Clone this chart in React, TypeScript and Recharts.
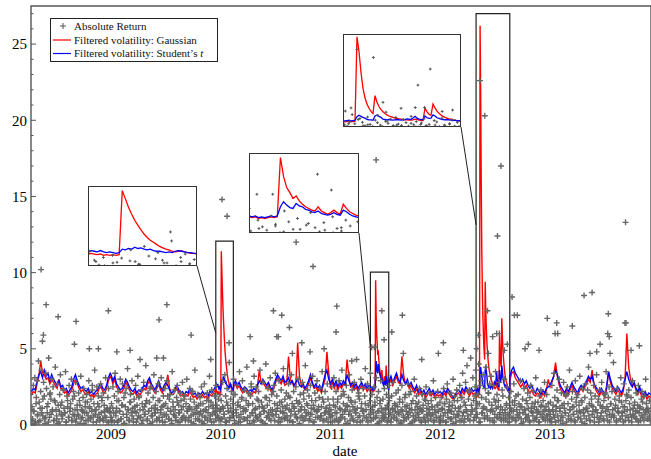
import React from "react";
import {
  ComposedChart,
  Scatter,
  Line,
  XAxis,
  YAxis,
  ReferenceArea,
  ReferenceLine,
} from "recharts";

const FONT = "'Liberation Serif', 'Times New Roman', 'DejaVu Serif', serif";

// plot frame (data units)
const X0 = 2008.27;
const X1 = 2013.92;
const Y_MAX = 27.5;
const YEAR_TICKS = [2009, 2010, 2011, 2012, 2013];
const Y_TICKS = Array.from({ length: 28 }, (_, i) => i);

// ---- absolute returns, one value per trading-day slot in each chunk ----
const RET_CHUNK_START = [2008.275, 2009, 2010, 2011, 2012, 2013];
const RET_CHUNK_END = [2009, 2010, 2011, 2012, 2013, 2013.915];
const RET_2008 = [
  1.2, 0.4, 2.6, 0.9, 3.1, 0.2, 1.8, 2.9, 0.7, 4.2, 1.5, 0.3, 2.2, 3.6, 1.1,
  0.6, 2.8, 1.9, 0.1, 3.4, 2.4, 0.8, 1.4, 4.4, 0.5, 2.1, 1.7, 3.0, 0.9, 2.5,
  0.3, 1.6, 3.8, 1.0, 0.4, 2.7, 1.3, 0.2, 2.0, 3.3, 0.7, 1.5, 0.6, 2.3, 1.1,
  0.8, 3.5, 0.2, 1.9, 1.2, 0.5, 2.6, 0.9, 1.4, 3.0, 0.3, 1.7, 2.2, 0.6, 1.0,
  2.8, 0.4, 1.3, 0.7, 2.1, 1.6, 0.1, 3.2, 1.0, 0.5, 1.8, 2.4, 0.8, 1.2, 0.3,
  2.0, 1.5, 0.6, 2.9, 1.1, 0.4, 1.7, 0.9, 2.3, 0.2, 1.4, 3.6, 0.7, 1.0, 2.5,
  0.5, 1.9, 1.2, 0.3, 2.7, 0.8, 1.6, 0.4, 2.1, 1.3, 0.6, 3.1, 1.0, 0.2, 1.8,
  2.4, 0.9, 1.1, 0.5,
];
const RET_2009 = [
  1.4, 0.3, 2.5, 0.8, 1.9, 3.4, 0.6, 1.1, 0.2, 2.2, 1.6, 0.9, 3.0, 0.4, 1.3,
  2.7, 0.7, 1.8, 0.1, 1.2, 2.4, 0.5, 3.7, 1.0, 0.3, 1.5, 2.0, 0.8, 2.9, 1.1,
  0.4, 1.7, 0.9, 2.6, 0.2, 1.3, 3.2, 0.6, 1.9, 1.0, 0.5, 2.3, 1.4, 0.3, 2.8,
  1.2, 0.7, 3.9, 1.6, 0.4, 2.1, 0.9, 1.5, 0.1, 2.5, 1.1, 0.6, 1.8, 3.3, 0.8,
  1.3, 2.2, 0.3, 1.0, 2.7, 0.5, 1.6, 0.8, 3.1, 1.2, 0.2, 1.9, 0.7, 2.4, 1.4,
  0.6, 2.9, 1.1, 0.4, 1.7, 2.0, 0.9, 0.3, 3.5, 1.5, 0.7, 2.3, 1.0, 0.5, 1.8,
  2.6, 0.2, 1.3, 0.8, 2.1, 1.6, 0.4, 2.8, 1.2, 0.6, 1.9, 0.3, 1.4, 3.0, 0.9,
  1.1, 0.5, 2.4, 1.7, 0.2, 1.0, 2.2, 0.7, 1.5, 3.6, 0.4, 1.2, 0.8, 2.0, 1.3,
  0.3, 1.8, 0.9, 2.5, 0.6, 1.4, 0.1, 2.7, 1.0, 0.5, 1.6, 2.1, 0.8, 1.2, 3.2,
  0.4, 1.5, 2.3, 0.7, 1.1, 0.2, 1.9, 0.9, 2.6, 1.3, 0.6, 1.7, 0.3, 2.0, 1.0,
];
const RET_2010 = [
  1.6, 0.4, 2.8, 1.1, 0.7, 3.3, 1.9, 0.2, 2.4, 1.3, 0.9, 4.1, 0.5, 1.7, 2.2,
  0.8, 1.4, 3.0, 0.3, 2.0, 1.0, 0.6, 2.6, 1.5, 0.2, 3.5, 1.2, 0.7, 1.8, 2.9,
  0.4, 1.1, 2.3, 0.9, 1.6, 3.8, 0.5, 1.3, 2.1, 0.1, 1.9, 2.7, 0.8, 1.4, 0.3,
  3.2, 1.0, 0.6, 2.5, 1.7, 0.4, 2.2, 1.2, 3.6, 0.7, 1.5, 0.2, 2.8, 1.1, 0.9,
  1.8, 4.0, 0.5, 1.3, 2.4, 0.8, 1.6, 3.1, 0.3, 2.0, 1.0, 0.6, 2.6, 1.4, 3.4,
  0.7, 1.9, 1.1, 0.2, 2.9, 1.5, 0.9, 2.3, 0.4, 1.2, 3.7, 0.8, 1.7, 0.5, 2.1,
  1.3, 0.3, 2.7, 1.0, 1.8, 0.6, 3.3, 1.4, 0.2, 2.2, 1.1, 0.7, 2.5, 1.6, 0.4,
  3.0, 0.9, 1.5, 2.0, 0.5, 1.2, 2.8, 0.3, 1.7, 1.0, 3.9, 0.6, 1.4, 2.3, 0.8,
  1.9, 0.4, 2.6, 1.1, 0.7, 3.2, 1.3, 0.2, 2.1, 1.6, 0.9, 2.9, 0.5, 1.0, 1.8,
  2.4, 0.6, 1.2, 3.5, 0.3, 1.5, 0.8, 2.2, 1.1, 0.4, 2.7, 1.7, 0.9, 1.3, 0.5,
];
const RET_2011 = [
  1.0, 2.5, 0.6, 1.7, 3.1, 0.3, 1.2, 2.2, 0.8, 1.5, 0.2, 2.9, 1.1, 0.5, 1.9,
  3.6, 0.7, 1.4, 2.0, 0.4, 1.0, 2.6, 1.3, 0.1, 1.8, 3.3, 0.9, 1.6, 0.6, 2.3,
  1.2, 0.3, 2.8, 1.5, 0.8, 4.3, 1.1, 0.5, 2.1, 1.7, 0.2, 3.0, 1.4, 0.9, 2.4,
  0.6, 1.9, 3.7, 1.0, 0.4, 2.7, 1.3, 0.7, 1.6, 3.4, 0.3, 2.0, 1.2, 0.8, 2.5,
  1.5, 0.5, 3.1, 1.8, 0.9, 2.2, 0.2, 1.4, 2.9, 1.1, 0.6, 1.7, 0.4, 2.4, 1.0,
  0.7, 2.0, 1.3, 0.3, 2.6, 1.6, 0.8, 0.2, 1.9, 1.1, 2.8, 0.5, 1.4, 0.9, 2.1,
  0.4, 1.2, 2.3, 0.7, 1.7, 0.1, 1.0, 2.6, 1.5, 0.6, 0.3, 1.8, 2.0, 0.9, 1.3,
  2.7, 0.5, 1.1, 0.8, 2.2, 1.4, 0.2, 1.6, 0.6, 3.0, 1.0, 0.4, 1.9, 1.2, 0.7,
  1.5, 2.4, 0.3, 1.0, 0.9, 2.0, 1.3, 0.5, 1.7, 0.2, 2.5, 1.1, 0.6, 1.4, 0.8,
  2.1, 0.4, 1.6, 1.2, 0.7, 2.9, 0.3, 1.0, 1.8, 0.5, 1.3, 2.2, 0.9, 0.2, 1.5,
];
const RET_2012 = [
  0.6, 1.8, 1.1, 0.3, 2.4, 1.4, 0.8, 0.2, 1.7, 2.7, 0.5, 1.0, 1.5, 0.9, 2.1,
  0.4, 1.3, 3.0, 0.7, 1.9, 1.1, 0.2, 2.3, 1.6, 0.6, 0.9, 2.6, 1.2, 0.3, 1.8,
  3.4, 0.8, 1.5, 0.4, 2.8, 1.0, 3.9, 0.6, 1.7, 2.2, 0.3, 4.4, 1.3, 0.9, 3.1,
  1.6, 0.5, 2.5, 3.6, 1.1, 0.7, 2.0, 4.0, 1.4, 0.2, 2.9, 1.8, 0.8, 3.3, 1.2,
  0.6, 2.4, 3.8, 1.0, 0.4, 2.1, 1.5, 2.7, 0.9, 3.2, 1.3, 0.3, 2.6, 1.7, 0.7,
  3.5, 1.1, 2.0, 0.5, 1.6, 2.8, 0.8, 1.2, 0.3, 2.3, 1.9, 0.6, 3.0, 1.0, 0.4,
  1.4, 2.5, 0.7, 1.8, 0.2, 1.1, 2.2, 0.9, 1.5, 0.5, 2.7, 1.3, 0.3, 1.9, 1.0,
  0.6, 2.0, 1.4, 0.8, 2.9, 0.4, 1.2, 1.7, 0.2, 2.4, 1.0, 0.7, 1.6, 0.5, 2.1,
  1.1, 0.3, 1.8, 2.6, 0.9, 1.4, 0.6, 2.2, 1.2, 0.4, 3.1, 1.0, 0.8, 1.5, 0.2,
  1.9, 0.7, 2.3, 1.3, 0.5, 1.6, 0.9, 2.8, 0.3, 1.2, 2.0, 0.6, 1.4, 1.0, 0.4,
];
const RET_2013 = [
  1.5, 0.4, 2.6, 1.0, 0.7, 3.4, 1.8, 0.2, 1.2, 2.3, 0.6, 1.6, 3.0, 0.9, 0.3,
  2.1, 1.3, 0.5, 2.8, 1.1, 0.8, 1.9, 0.2, 2.5, 1.4, 0.6, 3.6, 1.0, 0.4, 1.7,
  2.2, 0.7, 1.2, 0.3, 2.9, 1.5, 0.9, 2.0, 0.5, 1.3, 3.2, 0.8, 1.6, 0.2, 2.4,
  1.0, 0.6, 1.8, 2.7, 0.4, 1.1, 0.9, 3.8, 1.4, 0.3, 2.1, 1.7, 0.7, 1.2, 2.6,
  0.5, 1.9, 1.0, 3.3, 0.8, 1.5, 0.2, 2.3, 1.3, 0.6, 2.8, 1.1, 0.4, 1.6, 2.0,
  0.9, 3.5, 1.2, 0.3, 1.8, 2.5, 0.7, 1.4, 0.5, 2.2, 1.0, 4.1, 0.6, 1.7, 1.3,
  0.2, 2.4, 1.1, 0.8, 1.9, 0.4, 3.1, 1.5, 0.6, 1.2, 2.7, 0.9, 0.3, 1.6, 2.0,
  1.0, 0.5, 2.3, 1.4, 0.7, 1.8, 0.2, 2.9, 1.1, 0.6, 1.5, 0.9, 2.1, 0.4, 1.3,
  2.6, 0.8, 1.2, 0.3, 1.7, 2.2, 0.5, 1.0, 1.9, 0.7, 3.0, 1.4, 0.4, 1.1, 0.9,
  1.6, 0.3,
];
// the remaining (mostly quiet) days of each chunk
const RET_2008_B = [
  0.3, 0.9, 0.1, 1.4, 0.6, 0.2, 1.1, 0.8, 1.7, 0.4, 0.5, 1.2, 0.2, 2.0, 0.7,
  1.0, 0.3, 1.5, 0.6, 0.1, 0.9, 1.3, 0.4, 2.3, 0.8, 0.2, 1.6, 0.5, 1.1, 0.3,
  0.7, 1.9, 0.2, 1.0, 0.6, 1.3, 0.4, 0.9, 0.1, 1.5, 0.8, 0.3, 1.2, 0.5, 2.6,
  0.6, 1.0, 0.2, 1.4, 0.7, 0.4, 1.8, 0.3, 0.9, 0.5, 1.1, 0.2, 0.8,
];
const RET_2009_B = [
  0.5, 1.1, 0.2, 0.8, 1.6, 0.3, 0.9, 0.4, 1.3, 0.1, 2.1, 0.7, 1.0, 0.3, 1.5, 0.6,
  0.2, 1.2, 0.8, 0.4, 1.8, 0.5, 0.1, 1.0, 0.7, 1.4, 0.3, 0.9, 2.4, 0.6, 0.2, 1.1,
  0.8, 0.4, 1.6, 0.3, 1.0, 0.5, 1.3, 0.2, 0.7, 1.9, 0.4, 0.9, 0.1, 1.2, 0.6, 0.3,
  1.5, 0.8, 0.2, 1.0, 0.5, 1.7, 0.4, 0.9, 0.3, 1.2, 0.6, 2.2, 0.1, 0.8, 1.1, 0.4,
  0.7, 1.4, 0.2, 0.9, 0.5, 1.0, 0.3, 1.6, 0.6, 0.2, 1.3, 0.8, 0.4, 1.1, 0.5, 0.9,
];
const RET_2010_B = [
  0.4, 1.2, 0.7, 0.2, 1.5, 0.9, 0.3, 1.1, 0.6, 2.0, 0.1, 0.8, 1.3, 0.5, 0.2, 1.7,
  0.9, 0.4, 1.0, 0.3, 1.4, 0.6, 2.5, 0.8, 0.2, 1.1, 0.5, 1.6, 0.7, 0.3, 1.2, 0.9,
  0.1, 1.8, 0.6, 0.4, 1.0, 0.7, 2.2, 0.3, 0.9, 1.3, 0.5, 0.2, 1.5, 0.8, 0.4, 1.1,
  0.6, 1.9, 0.3, 0.9, 0.2, 1.2, 0.7, 0.5, 1.4, 0.1, 1.0, 0.6, 2.1, 0.4, 0.8, 1.3,
  0.3, 0.7, 1.6, 0.2, 1.0, 0.5, 0.9, 1.2, 0.4, 0.6, 1.7, 0.3, 0.8, 1.1, 0.2, 0.7,
];
const RET_2011_B = [
  0.6, 0.2, 1.3, 0.8, 0.4, 1.7, 0.3, 1.0, 0.5, 2.2, 0.9, 0.1, 1.2, 0.7, 0.3, 1.5,
  0.4, 1.0, 0.8, 0.2, 1.9, 0.6, 1.1, 0.3, 0.9, 1.4, 0.5, 0.2, 2.4, 0.7, 1.0, 0.4,
  1.3, 0.6, 0.1, 0.9, 1.6, 0.3, 0.8, 0.5, 1.1, 0.2, 1.8, 0.7, 0.4, 1.0, 0.6, 1.3,
  0.3, 0.8, 1.5, 0.2, 0.9, 0.5, 1.2, 0.4, 0.7, 2.0, 0.1, 1.0, 0.6, 0.3, 1.4, 0.8,
  0.5, 1.1, 0.2, 0.9, 0.4, 1.6, 0.7, 0.3, 1.0, 0.6, 1.2, 0.2, 0.8, 0.5, 1.3, 0.4,
];
const RET_2012_B = [
  0.3, 1.0, 0.6, 1.4, 0.2, 0.8, 1.2, 0.4, 0.9, 0.1, 1.6, 0.5, 0.7, 1.1, 0.3, 1.8,
  0.6, 0.2, 1.3, 0.9, 0.4, 2.3, 0.7, 1.0, 0.3, 1.9, 0.5, 1.4, 0.2, 2.6, 0.8, 1.1,
  0.4, 1.7, 0.6, 2.1, 0.3, 1.0, 0.9, 0.2, 1.5, 0.5, 1.2, 0.7, 0.4, 1.0, 0.3, 0.8,
  1.3, 0.2, 0.6, 1.1, 0.4, 0.9, 1.6, 0.3, 0.7, 0.5, 1.2, 0.1, 0.8, 1.0, 0.4, 1.4,
  0.6, 0.2, 1.1, 0.8, 0.3, 1.5, 0.5, 0.9, 0.2, 1.2, 0.7, 0.4, 1.0, 0.6, 0.3, 0.9,
];
const RET_2013_B = [
  0.7, 0.2, 1.3, 0.5, 0.9, 1.6, 0.3, 1.1, 0.6, 0.1, 1.4, 0.8, 2.0, 0.4, 1.0, 0.3,
  1.2, 0.7, 0.2, 1.8, 0.5, 0.9, 0.4, 1.5, 0.8, 0.1, 1.1, 2.3, 0.6, 0.3, 1.3, 0.9,
  0.2, 1.0, 0.5, 1.7, 0.4, 0.8, 1.2, 0.3, 2.1, 0.6, 1.0, 0.2, 1.4, 0.7, 0.5, 1.1,
  0.3, 0.9, 1.6, 0.4, 0.8, 0.2, 1.2, 0.6, 1.9, 0.3, 1.0, 0.5, 0.7, 1.3, 0.4, 0.9,
  0.2, 1.1, 0.6, 1.5, 0.3, 0.8, 1.0, 0.4, 0.6,
];
const RET_CHUNKS = [RET_2008, RET_2009, RET_2010, RET_2011, RET_2012, RET_2013];
const RET_CHUNKS_B = [RET_2008_B, RET_2009_B, RET_2010_B, RET_2011_B, RET_2012_B, RET_2013_B];

// large absolute returns
const BIG_RET_DATES = [
  2008.362, 2008.374, 2008.383, 2008.408, 2008.517, 2008.666, 2008.681, 2008.802,
  2008.884, 2008.975, 2009.052, 2009.173, 2009.264, 2009.416, 2009.437, 2009.477,
  2009.508, 2009.729, 2009.908, 2010.011, 2010.057, 2010.075, 2010.267, 2010.297,
  2010.479, 2010.51, 2010.524, 2010.555, 2010.625, 2010.652, 2010.686, 2010.738,
  2010.813, 2010.84, 2010.941, 2011.05, 2011.057, 2011.193, 2011.375, 2011.399,
  2011.415, 2011.467, 2011.488, 2011.558, 2011.654, 2011.663, 2011.831, 2011.982,
  2012.028, 2012.21, 2012.332, 2012.347, 2012.362, 2012.405, 2012.43, 2012.438,
  2012.477, 2012.514, 2012.521, 2012.538, 2012.553, 2012.584, 2012.611, 2012.654,
  2012.675, 2012.702, 2012.772, 2012.802, 2012.9, 2012.975, 2013.046, 2013.061,
  2013.07, 2013.203, 2013.31, 2013.383, 2013.364, 2013.425, 2013.456, 2013.526,
  2013.531, 2013.54, 2013.547, 2013.683, 2013.688, 2013.692, 2013.738, 2013.814,
];
const BIG_RET_VALUES = [
  10.2, 5.5, 5.9, 7.9, 7.1, 5.3, 6.8, 5.0,
  5.0, 7.5, 4.8, 4.9, 4.3, 4.4, 6.9, 4.4,
  7.9, 5.9, 4.3, 14.8, 13.7, 5.4, 5.8, 4.2,
  7.5, 5.8, 5.8, 7.2, 6.4, 4.7, 12.0, 5.4,
  4.8, 10.4, 5.0, 6.1, 7.8, 4.2, 5.1, 5.1,
  17.4, 7.5, 5.6, 6.1, 7.2, 4.7, 4.3, 4.7,
  5.4, 4.9, 5.0, 5.9, 22.6, 20.3, 7.5, 4.7,
  5.8, 6.0, 12.4, 6.0, 17.0, 4.9, 5.3, 8.4,
  7.2, 7.2, 5.0, 5.3, 4.9, 7.0, 6.0, 6.7,
  6.0, 6.5, 8.5, 8.7, 4.7, 4.8, 5.3, 6.0,
  7.3, 5.8, 4.7, 6.7, 13.3, 6.7, 4.9, 5.2,
];

// ---- filtered volatility, one value every 1/60 year from each chunk start ----
const VOL_CHUNK_START = [2008.275, 2009, 2010, 2011, 2012, 2013];
const STUDENT_2008 = [2.2, 2.4, 2.3, 2.9, 3.3, 3.5, 3.1, 3.6, 3.2, 3.4, 2.9, 3.3, 3.0, 2.8, 2.6, 2.9, 2.5, 2.6, 2.3, 2.4, 2.1, 2.3, 2.5, 3.0, 3.3, 2.9, 2.6, 2.4, 2.5, 2.3, 2.2, 2.4, 2.1, 2.2, 2.0, 2.2, 2.3, 2.6, 2.7, 2.4, 2.3, 2.6, 3.1, 3.4];
const GAUSS_2008 = [2.0, 2.2, 2.1, 2.7, 3.2, 4.2, 3.4, 3.3, 3.0, 3.1, 2.7, 3.0, 2.8, 2.6, 2.4, 3.0, 2.4, 2.4, 2.1, 2.2, 1.9, 2.1, 2.3, 2.7, 3.0, 2.7, 2.4, 2.2, 2.3, 2.1, 2.0, 2.2, 1.9, 2.0, 1.8, 2.0, 2.1, 2.4, 2.5, 2.2, 2.1, 2.4, 2.9, 3.2];
const STUDENT_2009 = [3.3, 2.9, 3.2, 2.7, 2.5, 2.3, 2.4, 2.6, 3.0, 2.8, 2.5, 2.3, 2.2, 2.4, 2.1, 2.3, 2.2, 2.4, 2.6, 2.5, 2.9, 3.1, 2.7, 2.5, 2.3, 2.6, 2.9, 2.5, 2.3, 2.6, 2.8, 2.6, 2.3, 2.1, 2.2, 2.4, 2.6, 2.3, 2.1, 2.2, 2.0, 2.2, 2.1, 2.4, 2.2, 2.0, 2.1, 1.9, 2.1, 2.0, 2.2, 2.0, 2.1, 1.9, 2.2, 2.1, 2.3, 2.5, 2.4, 2.6];
const GAUSS_2009 = [3.1, 2.7, 3.0, 2.5, 2.3, 2.1, 2.2, 2.4, 2.8, 2.6, 2.3, 2.1, 2.0, 2.2, 1.9, 2.1, 2.0, 2.2, 2.4, 2.3, 2.7, 2.9, 2.5, 2.3, 2.1, 2.4, 2.7, 2.3, 2.1, 2.4, 2.6, 3.3, 2.4, 2.0, 2.0, 2.2, 2.4, 2.1, 1.9, 2.0, 1.8, 2.0, 1.9, 2.2, 2.0, 1.8, 1.9, 1.7, 1.9, 1.8, 2.0, 1.8, 1.9, 1.7, 2.0, 1.9, 2.1, 2.3, 2.2, 2.4];
const STUDENT_2010 = [2.6, 3.0, 3.2, 3.0, 2.8, 2.6, 2.5, 2.7, 2.9, 2.6, 2.8, 2.5, 2.3, 2.5, 2.4, 2.2, 2.3, 2.2, 2.4, 2.3, 2.6, 2.9, 2.7, 3.0, 2.8, 2.6, 2.8, 2.5, 2.3, 2.6, 3.0, 3.3, 3.1, 2.9, 3.2, 2.8, 2.9, 3.1, 2.7, 2.9, 2.6, 2.8, 3.0, 2.6, 2.5, 2.7, 2.4, 2.6, 2.9, 3.3, 2.8, 2.5, 2.7, 2.4, 2.6, 2.3, 2.8, 3.3, 3.6, 3.0];
const GAUSS_2010 = [2.3, 11.0, 7.0, 4.6, 3.4, 2.8, 2.5, 2.5, 2.7, 2.4, 2.6, 2.3, 2.1, 2.3, 2.2, 2.0, 2.1, 2.0, 2.2, 2.1, 2.5, 3.6, 2.8, 2.8, 2.6, 2.4, 2.6, 2.3, 2.1, 2.4, 2.8, 3.1, 2.9, 2.7, 3.0, 2.6, 2.7, 4.5, 3.0, 2.8, 2.5, 2.6, 5.4, 3.2, 2.6, 2.5, 2.3, 2.4, 2.7, 3.1, 2.7, 2.4, 2.5, 2.2, 2.4, 2.1, 2.6, 3.0, 4.8, 3.4];
const STUDENT_2011 = [2.7, 3.0, 2.6, 2.9, 2.5, 2.8, 2.6, 2.9, 2.7, 3.3, 2.9, 2.6, 2.8, 2.5, 2.7, 2.4, 2.6, 2.8, 2.5, 2.7, 2.4, 2.6, 2.5, 2.4, 2.5, 4.0, 3.6, 3.8, 3.3, 3.1, 2.8, 2.6, 2.9, 3.2, 2.8, 3.1, 3.4, 3.0, 2.8, 3.3, 2.9, 2.7, 3.0, 2.6, 2.8, 2.5, 2.3, 2.6, 2.2, 2.4, 2.1, 2.3, 2.0, 2.2, 2.4, 2.1, 2.3, 2.0, 2.2, 2.1];
const GAUSS_2011 = [2.5, 2.8, 2.4, 2.7, 2.3, 2.6, 2.4, 2.7, 2.6, 4.3, 3.2, 2.5, 2.6, 2.3, 2.5, 2.2, 2.4, 2.6, 2.3, 2.5, 2.2, 2.4, 2.4, 2.3, 2.4, 9.0, 6.0, 4.6, 3.7, 3.2, 2.9, 2.6, 2.7, 3.0, 2.6, 2.9, 3.2, 2.8, 2.7, 4.5, 3.2, 2.7, 2.8, 2.4, 2.6, 2.3, 2.1, 2.4, 2.0, 2.2, 1.9, 2.1, 1.8, 2.0, 2.2, 1.9, 2.1, 1.8, 2.0, 1.9];
const STUDENT_2012 = [2.2, 2.0, 2.3, 2.1, 2.4, 2.2, 2.0, 1.8, 1.9, 2.2, 2.3, 2.1, 2.4, 2.2, 2.5, 2.3, 2.1, 2.4, 2.2, 2.3, 2.4, 3.2, 2.8, 3.0, 3.4, 3.0, 2.9, 3.1, 2.8, 2.7, 2.9, 3.2, 3.0, 3.3, 3.5, 3.1, 3.0, 2.9, 3.2, 3.6, 3.8, 3.4, 3.2, 3.0, 2.8, 3.0, 2.7, 2.9, 2.6, 2.4, 2.6, 2.3, 2.1, 2.4, 2.2, 2.0, 2.3, 2.1, 2.4, 2.5];
const GAUSS_2012 = [2.0, 1.8, 2.1, 1.9, 2.2, 2.0, 1.8, 1.7, 1.8, 2.0, 2.1, 1.9, 2.2, 2.0, 2.3, 2.1, 1.9, 2.2, 2.0, 2.1, 2.2, 24.0, 8.0, 4.5, 9.0, 5.0, 3.5, 3.0, 2.6, 2.5, 2.6, 5.5, 6.8, 4.5, 3.3, 2.8, 2.5, 2.4, 2.9, 3.4, 3.5, 3.1, 2.9, 2.7, 2.5, 2.7, 2.4, 2.6, 2.3, 2.1, 2.3, 2.0, 1.9, 2.1, 2.0, 1.8, 2.1, 1.9, 2.3, 3.0];
const STUDENT_2013 = [2.6, 2.9, 3.2, 3.6, 3.3, 2.8, 2.5, 2.3, 2.1, 2.4, 2.2, 2.5, 2.8, 2.5, 2.3, 2.1, 2.4, 2.6, 2.4, 2.7, 2.9, 3.2, 3.0, 3.2, 2.7, 2.5, 2.3, 2.1, 2.4, 2.2, 2.0, 2.6, 3.5, 3.0, 2.6, 2.4, 2.2, 2.5, 2.3, 2.1, 2.4, 3.0, 3.5, 3.0, 2.7, 2.5, 2.8, 2.4, 2.2, 2.5, 2.1, 2.0, 2.2, 1.9, 2.1, 2.0];
const GAUSS_2013 = [2.5, 2.8, 3.2, 4.1, 3.2, 2.6, 2.3, 2.1, 1.9, 2.2, 2.0, 2.3, 2.6, 2.3, 2.1, 1.9, 2.2, 2.4, 2.2, 2.5, 2.7, 3.0, 2.8, 3.6, 2.7, 2.3, 2.1, 1.9, 2.2, 2.0, 1.8, 2.4, 3.5, 2.8, 2.4, 2.2, 2.0, 2.3, 2.1, 1.9, 2.2, 3.0, 6.0, 3.8, 3.0, 2.6, 2.7, 2.3, 2.0, 2.3, 1.9, 1.8, 2.0, 1.7, 1.9, 1.8];
const STUDENT_CHUNKS = [STUDENT_2008, STUDENT_2009, STUDENT_2010, STUDENT_2011, STUDENT_2012, STUDENT_2013];
const GAUSS_CHUNKS = [GAUSS_2008, GAUSS_2009, GAUSS_2010, GAUSS_2011, GAUSS_2012, GAUSS_2013];

// ---- zoom windows and their daily detail ----
const ZOOM_T0 = [2009.954, 2011.363, 2012.326];
const ZOOM_T1 = [2010.114, 2011.53, 2012.633];
const ZOOM_Y0 = [0.46, 0.46, 0.46];
const ZOOM_Y1 = [12.07, 10.04, 27.0];

const ZOOM1_GAUSS = [2.2, 2.3, 2.2, 2.1, 2.2, 2.0, 2.1, 2.0, 2.1, 2.0, 2.1, 11.4, 10.2, 9.0, 8.0, 7.1, 6.4, 5.7, 5.1, 4.6, 4.2, 3.9, 3.6, 3.3, 3.1, 2.9, 2.8, 2.6, 2.5, 2.6, 2.7, 2.5, 2.4, 2.3, 2.3, 2.2];
const ZOOM1_STUDENT = [2.6, 2.7, 2.6, 2.5, 2.7, 2.5, 2.4, 2.5, 2.4, 2.3, 2.4, 2.9, 2.8, 3.0, 2.9, 3.2, 3.0, 3.1, 2.9, 2.8, 2.9, 2.7, 2.6, 2.6, 2.5, 2.4, 2.5, 2.4, 2.6, 2.7, 2.6, 2.5, 2.4, 2.4, 2.3, 2.3];
const ZOOM2_GAUSS = [2.4, 2.3, 2.4, 2.2, 2.3, 2.2, 2.3, 2.4, 2.3, 2.4, 9.5, 7.2, 5.9, 5.3, 4.6, 4.9, 4.3, 3.9, 3.6, 3.4, 3.2, 3.1, 3.6, 3.1, 2.9, 2.7, 2.9, 3.2, 2.9, 2.7, 3.9, 3.4, 3.0, 2.8, 2.6, 2.5];
const ZOOM2_STUDENT = [2.5, 2.4, 2.5, 2.3, 2.4, 2.3, 2.4, 2.5, 2.4, 2.5, 3.6, 4.2, 3.8, 3.5, 3.4, 4.0, 3.7, 3.6, 3.3, 3.2, 3.0, 2.9, 3.1, 2.8, 2.7, 2.6, 2.7, 2.9, 2.7, 2.6, 3.2, 3.0, 2.7, 2.5, 2.4, 2.3];
const ZOOM3_GAUSS = [2.0, 1.9, 2.0, 2.1, 1.9, 2.0, 2.1, 26.2, 22.0, 16.0, 11.5, 8.8, 7.0, 5.8, 4.9, 4.3, 9.4, 7.5, 6.3, 5.4, 4.8, 4.3, 3.9, 3.6, 3.4, 3.2, 3.0, 2.9, 2.8, 2.7, 2.6, 2.5, 2.5, 2.4, 2.4, 2.5, 2.7, 2.6, 2.4, 2.3, 2.3, 5.9, 4.8, 4.1, 3.8, 7.0, 5.9, 5.0, 4.4, 3.9, 3.5, 3.2, 3.0, 2.8, 2.7, 2.5, 2.4, 2.3, 2.2, 2.2];
const ZOOM3_STUDENT = [2.3, 2.2, 2.3, 2.4, 2.2, 2.3, 2.4, 3.4, 3.8, 3.5, 3.2, 3.0, 2.6, 2.5, 2.5, 2.4, 3.6, 3.9, 3.5, 3.2, 2.7, 2.6, 2.5, 2.6, 2.5, 2.4, 2.5, 2.6, 2.5, 2.4, 2.5, 2.6, 2.8, 2.7, 2.6, 3.0, 3.5, 3.0, 2.7, 2.6, 2.5, 3.6, 3.1, 2.9, 3.0, 3.9, 3.6, 3.1, 2.9, 2.7, 2.6, 2.5, 2.6, 2.5, 2.4, 2.3, 2.4, 2.2, 2.3, 2.2];
const ZOOM_GAUSS = [ZOOM1_GAUSS, ZOOM2_GAUSS, ZOOM3_GAUSS];
const ZOOM_STUDENT = [ZOOM1_STUDENT, ZOOM2_STUDENT, ZOOM3_STUDENT];

// inset placement on the page (px) and where each connector meets its zoom box
const INSET_BOXES = [
  { left: 88, top: 186, width: 109, height: 80 },
  { left: 249, top: 153, width: 110, height: 80 },
  { left: 343, top: 34, width: 118, height: 93 },
];
const CONNECTOR_END_Y = [6.04, 5.12, 13.13];

// ---- build series ----
type Pt = { t: number; v: number };

const spreadChunks = (chunks: number[][], offset: number): Pt[] =>
  chunks.flatMap((vals, c) => {
    const step = (RET_CHUNK_END[c] - RET_CHUNK_START[c]) / vals.length;
    return vals.map((v, i) => ({ t: RET_CHUNK_START[c] + (i + offset) * step, v }));
  });

const returns: Pt[] = [
  ...spreadChunks(RET_CHUNKS, 0.5),
  ...spreadChunks(RET_CHUNKS_B, 0.25),
  ...BIG_RET_DATES.map((t, i) => ({ t, v: BIG_RET_VALUES[i] })),
];

const inZoom = (t: number) => ZOOM_T0.some((t0, k) => t >= t0 && t <= ZOOM_T1[k]);

const zoomSeries = (vals: number[], k: number): Pt[] =>
  vals.map((v, i) => ({ t: ZOOM_T0[k] + (i * (ZOOM_T1[k] - ZOOM_T0[k])) / (vals.length - 1), v }));

const volSeries = (chunks: number[][], zoom: number[][]): Pt[] => {
  const coarse = chunks.flatMap((vals, c) => vals.map((v, i) => ({ t: VOL_CHUNK_START[c] + i / 60, v })));
  return [...coarse.filter((p) => !inZoom(p.t)), ...zoom.flatMap((z, k) => zoomSeries(z, k))].sort(
    (a, b) => a.t - b.t
  );
};

const gaussMain = volSeries(GAUSS_CHUNKS, ZOOM_GAUSS);
const studentMain = volSeries(STUDENT_CHUNKS, ZOOM_STUDENT);

// px -> data for the main plot (plot area x 31..651, y 6..425)
const toT = (px: number) => X0 + ((px - 31) * (X1 - X0)) / 620;
const toV = (py: number) => ((425 - py) * Y_MAX) / 419;

const cross = (s: number, color: string, w: number) => (props: any) => {
  const { cx, cy } = props;
  if (cx == null || cy == null) return <g />;
  return <path d={`M${cx - s},${cy}H${cx + s}M${cx},${cy - s}V${cy + s}`} stroke={color} strokeWidth={w} fill="none" />;
};
const bigCross = cross(3, "#666", 1.4);
const smallCross = cross(1.4, "#555", 1);

const YTick = (props: any) => {
  const { x, y, payload } = props;
  const major = payload.value % 5 === 0;
  return (
    <g>
      <line x1={x + 4} x2={x + 4 + (major ? 5 : 2.5)} y1={y} y2={y} stroke="#555" strokeWidth={1} />
      {major && (
        <text x={x} y={y} dy="0.35em" textAnchor="end" style={{ fontSize: 15, fontFamily: FONT }} fill="#000">
          {payload.value}
        </text>
      )}
    </g>
  );
};

const XTick = (props: any) => {
  const { x, y, payload } = props;
  return (
    <g>
      <line x1={x} x2={x} y1={y - 3} y2={y - 8} stroke="#555" strokeWidth={1} />
      <text x={x} y={y} dy="0.71em" textAnchor="middle" style={{ fontSize: 15, fontFamily: FONT }} fill="#000">
        {payload.value}
      </text>
    </g>
  );
};

function Inset({ k }: { k: number }) {
  const box = INSET_BOXES[k];
  const pts = returns.filter((p) => p.t >= ZOOM_T0[k] && p.t <= ZOOM_T1[k] && p.v <= ZOOM_Y1[k]);
  return (
    <div style={{ position: "absolute", left: box.left, top: box.top, width: box.width, height: box.height, background: "#fff" }}>
      <ComposedChart width={box.width} height={box.height} margin={{ top: 0, right: 0, bottom: 0, left: 0 }}>
        <XAxis type="number" dataKey="t" domain={[ZOOM_T0[k], ZOOM_T1[k]]} hide allowDataOverflow />
        <YAxis type="number" dataKey="v" domain={[ZOOM_Y0[k], ZOOM_Y1[k]]} hide allowDataOverflow />
        <Scatter data={pts} dataKey="v" shape={smallCross} isAnimationActive={false} />
        <Line data={zoomSeries(ZOOM_GAUSS[k], k)} dataKey="v" stroke="#ff0000" strokeWidth={1.3} dot={false} isAnimationActive={false} />
        <Line data={zoomSeries(ZOOM_STUDENT[k], k)} dataKey="v" stroke="#0000ff" strokeWidth={1.3} dot={false} isAnimationActive={false} />
      </ComposedChart>
      <div style={{ position: "absolute", inset: 0, border: "1.3px solid #333", boxSizing: "border-box" }} />
    </div>
  );
}

function LegendBox() {
  const text = { fontSize: 11, fontFamily: FONT } as const;
  return (
    <div style={{ position: "absolute", left: 50, top: 18, width: 168, height: 44, background: "#fff", border: "1.3px solid #222", boxSizing: "border-box" }}>
      <svg width={166} height={42} style={{ display: "block" }}>
        <path d="M9,7H15M12,4V10" stroke="#555" strokeWidth={1} />
        <text x={23} y={7} dy="0.35em" fill="#111" style={text}>Absolute Return</text>
        <line x1={2} x2={20} y1={21} y2={21} stroke="#ff0000" strokeWidth={1.2} />
        <text x={23} y={21} dy="0.35em" fill="#111" style={text}>Filtered volatility: Gaussian</text>
        <line x1={2} x2={20} y1={34.5} y2={34.5} stroke="#0000ff" strokeWidth={1.2} />
        <text x={23} y={34.5} dy="0.35em" fill="#111" style={text}>
          Filtered volatility: Student’s <tspan fontStyle="italic">t</tspan>
        </text>
      </svg>
    </div>
  );
}

export default function App() {
  return (
    <div style={{ position: "absolute", left: 0, top: 0, width: 651, height: 459, background: "#fff", fontFamily: FONT }}>
      <ComposedChart width={651} height={459} margin={{ top: 6, right: 0, bottom: 0, left: 0 }}>
        <XAxis
          type="number"
          dataKey="t"
          domain={[X0, X1]}
          ticks={YEAR_TICKS}
          interval={0}
          tick={<XTick />}
          tickLine={false}
          axisLine={false}
          tickSize={0}
          tickMargin={3}
          height={34}
          allowDataOverflow
          label={{ value: "date", position: "insideBottom", offset: 3, dx: 4, fontSize: 15, fontFamily: FONT, fill: "#000" }}
        />
        <YAxis
          type="number"
          dataKey="v"
          domain={[0, Y_MAX]}
          ticks={Y_TICKS}
          interval={0}
          tick={<YTick />}
          tickLine={false}
          axisLine={false}
          tickSize={0}
          tickMargin={4}
          width={31}
          allowDataOverflow
        />
        <Scatter data={returns} dataKey="v" shape={bigCross} isAnimationActive={false} />
        <Line data={gaussMain} dataKey="v" stroke="#ff0000" strokeWidth={1.4} dot={false} isAnimationActive={false} />
        <Line data={studentMain} dataKey="v" stroke="#0000ff" strokeWidth={1.4} dot={false} isAnimationActive={false} />
        <ReferenceArea x1={X0} x2={X1} y1={0} y2={Y_MAX} fill="none" stroke="#555" strokeWidth={1.4} ifOverflow="visible" />
        {ZOOM_T0.map((t0, k) => (
          <ReferenceArea key={`z${k}`} x1={t0} x2={ZOOM_T1[k]} y1={ZOOM_Y0[k]} y2={ZOOM_Y1[k]} fill="none" stroke="#222" strokeWidth={1.2} />
        ))}
        {INSET_BOXES.map((b, k) => (
          <ReferenceLine
            key={`c${k}`}
            segment={[
              { x: toT(b.left + b.width), y: toV(b.top + b.height) },
              { x: ZOOM_T0[k], y: CONNECTOR_END_Y[k] },
            ]}
            stroke="#222"
            strokeWidth={1}
          />
        ))}
      </ComposedChart>
      <LegendBox />
      {INSET_BOXES.map((_, k) => (
        <Inset key={k} k={k} />
      ))}
    </div>
  );
}
